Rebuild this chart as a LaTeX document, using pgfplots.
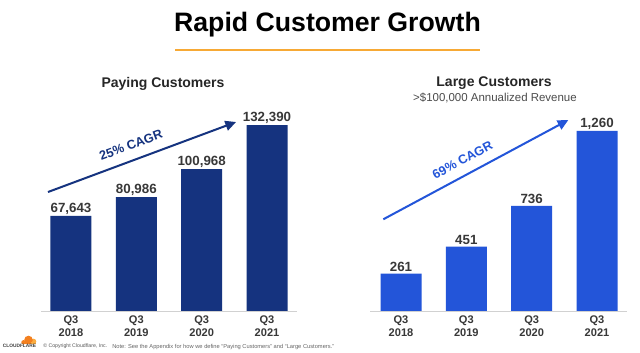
\documentclass[border=0pt]{standalone}
\usepackage{fontspec}
\setmainfont{Liberation Sans}
\usepackage{pgfplots}
\pgfplotsset{compat=1.18}
\usepackage{pgfplotstable}
\usetikzlibrary{arrows.meta}
\definecolor{navy}{HTML}{15337F}
\definecolor{cfblue}{HTML}{2355D9}
\definecolor{valgrey}{HTML}{383838}
\definecolor{lineorange}{HTML}{F7A935}
\definecolor{cforange}{HTML}{F38020}
\definecolor{cflight}{HTML}{FBAD41}

\pgfplotstableread{
x y lab
0 67643 67,643
1 80986 80,986
2 100968 100,968
3 132390 132,390
}\paying
\pgfplotstableread{
x y lab
0 261 261
1 451 451
2 736 736
3 1260 1,260
}\large

\pgfplotsset{cfbar/.style={
  scale only axis, anchor=south west, ymin=0, ybar, bar width=30.75pt,
  axis x line*=bottom, axis y line=none,
  x axis line style={draw=black!18, line width=0.6pt},
  xtick={0,1,2,3},
  xticklabels={{Q3\\2018},{Q3\\2019},{Q3\\2020},{Q3\\2021}},
  xticklabel style={align=center, font=\fontsize{8.3}{9.6}\selectfont\bfseries, text=valgrey, inner sep=1pt, yshift=-2.5pt},
  major tick length=0pt, ytick=\empty, clip=false,
  nodes near coords, point meta=explicit symbolic,
  nodes near coords style={font=\fontsize{10}{12}\selectfont\bfseries, text=valgrey, anchor=south, inner sep=1.2pt},
}}

\begin{document}
\begin{tikzpicture}
\useasboundingbox (0,0) rectangle (480pt,264.75pt);
\fill[white] (0,0) rectangle (480pt,264.75pt);

% Left: Paying customers
\begin{axis}[cfbar, at={(30.75pt,31.5pt)}, width=192pt, height=147.5pt,
  xmin=-0.459, xmax=3.459, ymax=140000]
\addplot[fill=navy, draw=none] table[x=x, y=y, meta=lab] {\paying};
\draw[navy, line width=1.5pt, -{Triangle[length=8pt,width=7.5pt]}] (axis cs:-0.352,84700) -- (axis cs:2.526,134530);
\node[rotate=20.4, text=navy, font=\fontsize{9.5}{11}\selectfont\bfseries] at (axis cs:0.918,118160) {25\% CAGR};
\end{axis}

% Right: Large customers
\begin{axis}[cfbar, at={(277.5pt,31.5pt)}, width=192.75pt, height=150pt,
  xmin=-0.4745, xmax=3.459, ymax=1400]
\addplot[fill=cfblue, draw=none] table[x=x, y=y, meta=lab] {\large};
\draw[cfblue, line width=1.5pt, -{Triangle[length=8pt,width=7.5pt]}] (axis cs:-0.271,641.9) -- (axis cs:2.561,1337);
\node[rotate=28.2, text=cfblue, font=\fontsize{9.5}{11}\selectfont\bfseries] at (axis cs:0.941,1057) {69\% CAGR};
\end{axis}

\begin{scope}[x=0.75pt, y=-0.75pt, shift={(0pt,264.75pt)}]
  \node[anchor=base, font=\fontsize{20}{24}\selectfont\bfseries, text=black, inner sep=0pt] at (327.5,32) {Rapid Customer Growth};
  \draw[lineorange, line width=1.3pt] (175,50) -- (480,50);
  \node[anchor=base, font=\fontsize{10.5}{12}\selectfont\bfseries, text=black!85, inner sep=0pt] at (163,87.7) {Paying Customers};
  \node[anchor=base, font=\fontsize{10.5}{12}\selectfont\bfseries, text=black!85, inner sep=0pt] at (494,86.7) {Large Customers};
  \node[anchor=base, font=\fontsize{8.6}{10}\selectfont, text=black!70, inner sep=0pt] at (495,101.7) {>\$100,000 Annualized Revenue};
  % footer logo
  \fill[cflight] (33.5,341.5) circle (2.8);
  \fill[cforange] (28.5,340) circle (4.3);
  \fill[cforange] (23.5,342.3) circle (2.2);
  \fill[cforange] (22,344.5) rectangle (32,342);
  \fill[cflight] (31,344.5) rectangle (36.3,342);
  \node[anchor=base, font=\fontsize{3.6}{4}\selectfont\bfseries, text=black!75, inner sep=0pt] at (19.5,348) {CLOUDFLARE};
  \node[anchor=base west, font=\fontsize{3.9}{4.5}\selectfont, text=black!65, inner sep=0pt] at (43,348) {\textcopyright{} Copyright Cloudflare, Inc.};
  \node[anchor=base west, font=\fontsize{4.3}{5}\selectfont, text=black!60, inner sep=0pt] at (112,348.5) {Note: See the Appendix for how we define ``Paying Customers'' and ``Large Customers.''};
\end{scope}
\end{tikzpicture}
\end{document}
